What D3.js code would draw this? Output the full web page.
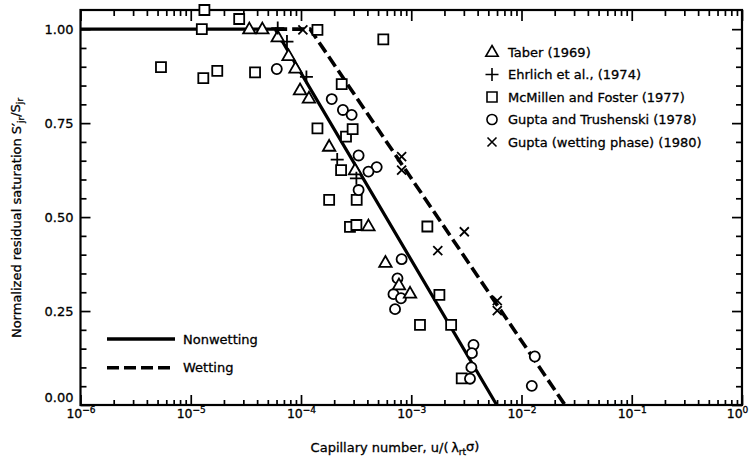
<!DOCTYPE html>
<html>
<head>
<meta charset="utf-8">
<script src="https://cdn.jsdelivr.net/npm/d3@7"></script>
<style>
  html, body { margin: 0; padding: 0; background: #fff; }
  svg { display: block; font-family: "DejaVu Sans", sans-serif; }
</style>
</head>
<body>
<svg id="chart" width="749" height="465"></svg>
<script>
// ---------------- data ----------------
const taber = [[3.40e-5,1.00],[4.46e-5,1.00],[6.15e-5,0.979],[7.71e-5,0.929],[8.91e-5,0.896],
  [9.80e-5,0.838],[1.18e-4,0.816],[1.80e-4,0.688],[3.09e-4,0.625],[4.09e-4,0.476],
  [5.83e-4,0.379],[7.74e-4,0.319],[9.75e-4,0.297]];
const ehrlich = [[6.15e-5,1.003],[7.46e-5,0.967],[1.12e-4,0.873],[2.13e-4,0.653],[3.18e-4,0.603]];
const mcmillen = [[1.33e-5,1.051],[1.26e-5,1.00],[2.75e-5,1.027],[5.37e-6,0.899],[1.30e-5,0.870],
  [1.74e-5,0.889],[3.83e-5,0.885],[1.41e-4,0.998],[5.58e-4,0.973],[2.34e-4,0.854],
  [1.41e-4,0.736],[2.56e-4,0.714],[2.94e-4,0.734],[2.31e-4,0.625],[1.80e-4,0.546],
  [3.20e-4,0.546],[2.78e-4,0.474],[3.18e-4,0.479],[1.20e-3,0.213],[1.40e-3,0.475],
  [1.80e-3,0.293],[2.30e-3,0.213],[2.87e-3,0.071]];
const gupta78 = [[6.03e-5,0.894],[1.90e-4,0.814],[2.40e-4,0.785],[2.88e-4,0.772],[3.33e-4,0.664],
  [4.86e-4,0.633],[4.09e-4,0.621],[3.33e-4,0.572],[8.18e-4,0.388],[7.50e-4,0.337],
  [6.90e-4,0.295],[8.07e-4,0.284],[7.13e-4,0.255],[3.67e-3,0.160],[3.55e-3,0.138],
  [3.51e-3,0.100],[3.41e-3,0.070],[1.32e-2,0.129],[1.24e-2,0.051]];
const gupta80 = [[1.04e-4,0.998],[8.18e-4,0.661],[8.18e-4,0.625],[3.03e-3,0.461],[1.74e-3,0.411],
  [6.03e-3,0.278],[6.03e-3,0.251]];
const nonwetting = [[1e-6,1.0],[5.83e-5,1.0],[5.96e-3,0.0]];
const wetting = [[5.83e-5,1.0],[1.21e-4,1.0],[2.48e-2,0.0]];

const yTicks = [0, 0.25, 0.5, 0.75, 1.0];
const yTickLabels = ["0.00", "0.25", "0.50", "0.75", "1.00"];
const xDecades = [-6, -5, -4, -3, -2, -1, 0];

const legendItems = [
  {label: "Taber (1969)", shape: "triangle"},
  {label: "Ehrlich et al., (1974)", shape: "plus"},
  {label: "McMillen and Foster (1977)", shape: "square"},
  {label: "Gupta and Trushenski (1978)", shape: "circle"},
  {label: "Gupta (wetting phase) (1980)", shape: "x"}
];
const lineLegend = [{label: "Nonwetting", dash: null}, {label: "Wetting", dash: "12,5"}];

// ---------------- layout ----------------
const L = 80.5, R = 742, T = 10, B = 405;
const svg = d3.select("#chart");
const x = d3.scaleLog().domain([1e-6, 1]).range([L, R]);
const y = d3.scaleLinear().domain([0, 1.051]).range([B, T]);

const majorX = xDecades.map(e => Math.pow(10, e));
const minorX = [];
xDecades.slice(0, -1).forEach(e => { for (let k = 2; k <= 9; k++) minorX.push(k * Math.pow(10, e)); });
const minorY = d3.range(0, 21).map(i => i * 0.05).filter(v => Math.abs(v * 4 - Math.round(v * 4)) > 1e-6);

function styleAxis(g) {
  g.select(".domain").remove();
  g.selectAll("line").attr("stroke", "#000").attr("stroke-width", 1.7);
}

// bottom axis
svg.append("g").attr("transform", `translate(0,${B})`)
  .call(d3.axisBottom(x).tickValues(minorX).tickSize(-5).tickFormat(""))
  .call(styleAxis);
const bottomMajor = svg.append("g").attr("transform", `translate(0,${B})`)
  .call(d3.axisBottom(x).tickValues(majorX).tickSize(-10).tickPadding(4).tickFormat(""))
  .call(styleAxis);
bottomMajor.selectAll(".tick text").each(function(d) {
  const e = Math.round(Math.log10(d));
  const t = d3.select(this).attr("font-size", 12.5).attr("font-family", "DejaVu Sans").attr("fill", "#000")
    .attr("stroke", "#000").attr("stroke-width", 0.3)
    .attr("dx", e === 0 ? -5 : 0);
  t.append("tspan").text("10");
  t.append("tspan").attr("dy", "-0.5em").attr("font-size", 9).text(e === 0 ? "0" : "\u2212" + Math.abs(e));
});

// top axis
svg.append("g").attr("transform", `translate(0,${T})`)
  .call(d3.axisTop(x).tickValues(minorX).tickSize(-6).tickFormat(""))
  .call(styleAxis);
svg.append("g").attr("transform", `translate(0,${T})`)
  .call(d3.axisTop(x).tickValues(majorX).tickSize(-11).tickFormat(""))
  .call(styleAxis);

// left axis
svg.append("g").attr("transform", `translate(${L},0)`)
  .call(d3.axisLeft(y).tickValues(minorY).tickSize(-6).tickFormat(""))
  .call(styleAxis);
const leftMajor = svg.append("g").attr("transform", `translate(${L},0)`)
  .call(d3.axisLeft(y).tickValues(yTicks).tickSize(-10).tickPadding(7)
    .tickFormat((d, i) => yTickLabels[i]))
  .call(styleAxis);
leftMajor.selectAll(".tick text").attr("font-size", 13).attr("font-family", "DejaVu Sans").attr("fill", "#000")
  .attr("stroke", "#000").attr("stroke-width", 0.3)
  .attr("dy", d => d === 0 ? "-0.3em" : "0.32em");

// right axis
svg.append("g").attr("transform", `translate(${R},0)`)
  .call(d3.axisRight(y).tickValues(minorY).tickSize(-6).tickFormat(""))
  .call(styleAxis);
svg.append("g").attr("transform", `translate(${R},0)`)
  .call(d3.axisRight(y).tickValues(yTicks).tickSize(-10).tickFormat(""))
  .call(styleAxis);

// frame
svg.append("rect").attr("x", L).attr("y", T).attr("width", R - L).attr("height", B - T)
  .attr("fill", "none").attr("stroke", "#000").attr("stroke-width", 2.2);

// ---------------- lines ----------------
const line = d3.line().x(d => x(d[0])).y(d => y(d[1]));
svg.append("path").datum(nonwetting).attr("d", line)
  .attr("fill", "none").attr("stroke", "#000").attr("stroke-width", 3.2);
svg.append("path").datum(wetting).attr("d", line)
  .attr("fill", "none").attr("stroke", "#000").attr("stroke-width", 3.6).attr("stroke-dasharray", "12,5");

// ---------------- markers ----------------
function markerPath(shape) {
  switch (shape) {
    case "triangle": return "M0,-6.5L6.2,4.3L-6.2,4.3Z";
    case "plus": return "M-6.5,0L6.5,0M0,-6.5L0,6.5";
    case "square": return "M-5,-5L5,-5L5,5L-5,5Z";
    case "circle": return d3.symbol(d3.symbolCircle, 80)();
    case "x": return "M-4.5,-4.5L4.5,4.5M4.5,-4.5L-4.5,4.5";
  }
}
const seriesList = [
  {data: mcmillen, shape: "square"},
  {data: gupta78, shape: "circle"},
  {data: taber, shape: "triangle"},
  {data: ehrlich, shape: "plus"},
  {data: gupta80, shape: "x"}
];
seriesList.forEach(s => {
  svg.append("g").selectAll("path").data(s.data).join("path")
    .attr("transform", d => `translate(${x(d[0])},${y(d[1])})`)
    .attr("d", markerPath(s.shape))
    .attr("fill", (s.shape === "plus" || s.shape === "x") ? "none" : "#fff")
    .attr("stroke", "#000").attr("stroke-width", 1.8);
});

// ---------------- legends ----------------
const lg = svg.append("g");
legendItems.forEach((it, i) => {
  const yy = 52 + i * 22.5;
  lg.append("path").attr("transform", `translate(492,${yy})`).attr("d", markerPath(it.shape))
    .attr("fill", "none").attr("stroke", "#000").attr("stroke-width", 1.6);
  lg.append("text").attr("x", 508).attr("y", yy).attr("dy", "0.36em")
    .attr("font-size", 13).attr("fill", "#000").attr("stroke", "#000").attr("stroke-width", 0.3)
    .text(it.label);
});
lineLegend.forEach((it, i) => {
  const yy = 339 + i * 28.7;
  lg.append("line").attr("x1", 107).attr("x2", 175).attr("y1", yy).attr("y2", yy)
    .attr("stroke", "#000").attr("stroke-width", 3.6).attr("stroke-dasharray", it.dash);
  lg.append("text").attr("x", 183).attr("y", yy).attr("dy", "0.36em")
    .attr("font-size", 13).attr("fill", "#000").attr("stroke", "#000").attr("stroke-width", 0.3)
    .text(it.label);
});

// ---------------- titles ----------------
const xt = svg.append("text").attr("x", 395).attr("y", 452).attr("text-anchor", "middle")
  .attr("font-size", 13).attr("fill", "#000").attr("stroke", "#000").attr("stroke-width", 0.3);
xt.append("tspan").text("Capillary number, u/(\u2009\u03bb");
xt.append("tspan").attr("font-size", 9).attr("dy", "0.3em").text("rt");
xt.append("tspan").attr("dy", "-0.3em").text("\u03c3)");

const yt = svg.append("text").attr("transform", "translate(21,218) rotate(-90)")
  .attr("text-anchor", "middle").attr("font-size", 13).attr("fill", "#000")
  .attr("stroke", "#000").attr("stroke-width", 0.3);
yt.append("tspan").text("Normalized residual saturation S\u2032");
yt.append("tspan").attr("font-size", 9).attr("dy", "0.3em").text("jr");
yt.append("tspan").attr("dy", "-0.3em").text("/S");
yt.append("tspan").attr("font-size", 9).attr("dy", "0.3em").text("jr");
</script>
</body>
</html>
